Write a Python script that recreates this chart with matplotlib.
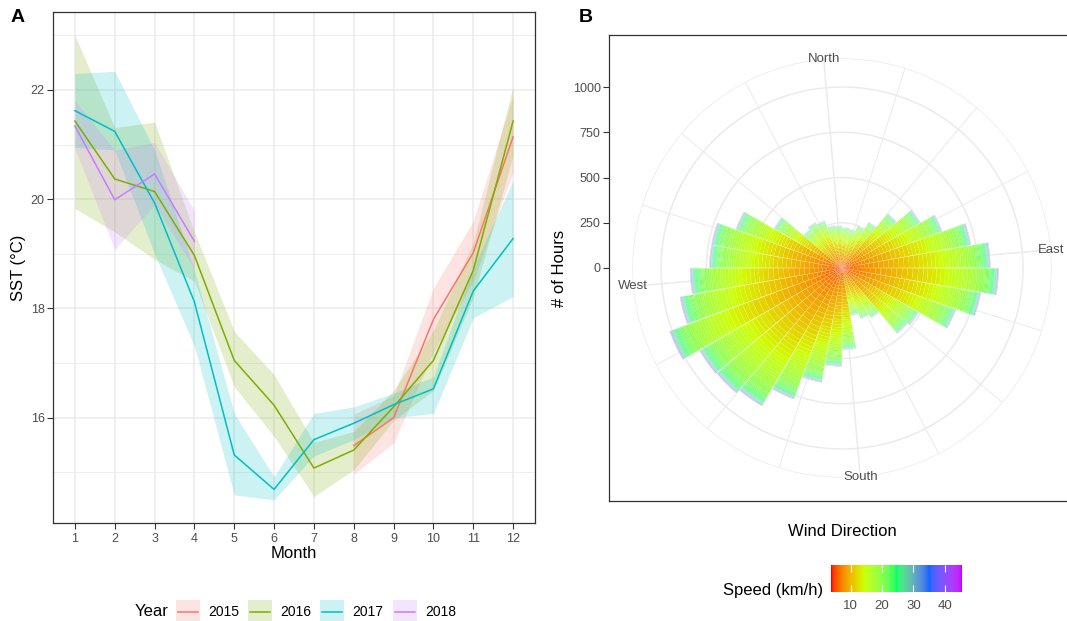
import numpy as np
import matplotlib
matplotlib.use('Agg')
from matplotlib import pyplot as plt
from matplotlib.colors import ListedColormap, Normalize, to_rgb
from matplotlib.cm import ScalarMappable
from matplotlib.lines import Line2D
from matplotlib.patches import Rectangle

plt.rcParams['font.family'] = ['Liberation Sans', 'DejaVu Sans']

# ---- panel A: monthly SST by year (mean and ribbon bounds) ----
months_2015 = [8, 9, 10, 11, 12]
sst_2015 = [15.49, 16.00, 17.80, 19.02, 21.14]
lo_2015 = [14.97, 15.54, 17.20, 18.50, 20.50]
hi_2015 = [16.07, 16.40, 18.37, 19.60, 21.90]

months_2016 = [1, 2, 3, 4, 5, 6, 7, 8, 9, 10, 11, 12]
sst_2016 = [21.43, 20.37, 20.14, 18.97, 17.05, 16.23, 15.08, 15.41, 16.20, 17.05, 18.70, 21.43]
lo_2016 = [19.83, 19.40, 18.90, 18.50, 16.57, 15.66, 14.56, 15.05, 15.95, 16.50, 18.20, 20.80]
hi_2016 = [23.00, 21.31, 21.41, 19.40, 17.58, 16.79, 15.55, 15.75, 16.50, 17.60, 19.20, 22.07]

months_2017 = [1, 2, 3, 4, 5, 6, 7, 8, 9, 10, 11, 12]
sst_2017 = [21.62, 21.24, 19.93, 18.12, 15.32, 14.69, 15.60, 15.90, 16.24, 16.53, 18.32, 19.28]
lo_2017 = [20.95, 20.90, 19.00, 17.31, 14.59, 14.50, 15.30, 15.60, 16.00, 16.08, 17.83, 18.22]
hi_2017 = [22.30, 22.34, 20.90, 18.70, 16.08, 14.92, 16.08, 16.20, 16.45, 16.75, 18.75, 20.34]

months_2018 = [1, 2, 3, 4]
sst_2018 = [21.34, 19.99, 20.46, 19.23]
lo_2018 = [20.92, 19.08, 19.90, 18.72]
hi_2018 = [21.80, 20.90, 21.04, 19.79]

years = ['2015', '2016', '2017', '2018']
year_colors = ['#F8766D', '#7CAE00', '#00BFC4', '#C77CFF']

# ---- panel B: hours of wind per 10 degree direction bin ----
direction_deg = list(range(0, 360, 10))
hours_by_dir = [235, 225, 220, 250, 295, 395, 500, 590, 725, 820, 866, 780,
                670, 490, 475, 320, 300, 270, 452, 544, 643, 772, 882, 905,
                910, 1015, 910, 840, 733, 733, 625, 436, 280, 293, 280, 240]
# share of hours (%) falling in each speed band (km/h)
speed_edges = [3.7, 6, 8, 10, 12, 14, 16, 18, 20, 22, 24, 26, 28, 30, 35, 40, 45.5]
speed_share = [5, 13, 17, 17, 14, 11, 8, 5.5, 3.5, 2.2, 1.4, 0.9, 0.6, 0.5, 0.25, 0.15]
speed_colors = ['#FF0000', '#CCFF00', '#00FF66', '#0066FF', '#CC00FF']

W, H = 1067, 621


def fx(px):
    return px / W


def fy(py):
    return 1 - py / H


def to_lab(c):
    rgb = np.array(to_rgb(c))
    lin = np.where(rgb <= 0.04045, rgb / 12.92, ((rgb + 0.055) / 1.055) ** 2.4)
    m = np.array([[0.4124, 0.3576, 0.1805], [0.2126, 0.7152, 0.0722], [0.0193, 0.1192, 0.9505]])
    xyz = m @ lin / np.array([0.95047, 1.0, 1.08883])
    f = np.where(xyz > 0.008856, np.cbrt(xyz), 7.787 * xyz + 16 / 116)
    return np.array([116 * f[1] - 16, 500 * (f[0] - f[1]), 200 * (f[1] - f[2])])


def from_lab(lab):
    fy_ = (lab[0] + 16) / 116
    f = np.array([fy_ + lab[1] / 500, fy_, fy_ - lab[2] / 200])
    xyz = np.where(f ** 3 > 0.008856, f ** 3, (f - 16 / 116) / 7.787) * np.array([0.95047, 1.0, 1.08883])
    mi = np.array([[3.2406, -1.5372, -0.4986], [-0.9689, 1.8758, 0.0415], [0.0557, -0.2040, 1.0570]])
    lin = np.clip(mi @ xyz, 0, 1)
    rgb = np.where(lin <= 0.0031308, 12.92 * lin, 1.055 * lin ** (1 / 2.4) - 0.055)
    return np.clip(rgb, 0, 1)


# gradient through the colours, interpolated in Lab like ggplot's gradientn
labs = [to_lab(c) for c in speed_colors]
ramp = []
for i in range(256):
    t = i / 255 * (len(labs) - 1)
    j = min(int(t), len(labs) - 2)
    u = t - j
    ramp.append(from_lab(labs[j] * (1 - u) + labs[j + 1] * u))
cmap = ListedColormap(ramp)
norm = Normalize(vmin=speed_edges[0], vmax=speed_edges[-1])

fig = plt.figure(figsize=(W / 100, H / 100), dpi=100)

GRID = '#EBEBEB'
DARK = '#333333'
TXT = '#4D4D4D'

# ================= panel A =================
ax = fig.add_axes([fx(53), fy(523), (535 - 53) / W, (523 - 12) / H])
series = [
    (months_2015, sst_2015, lo_2015, hi_2015),
    (months_2016, sst_2016, lo_2016, hi_2016),
    (months_2017, sst_2017, lo_2017, hi_2017),
    (months_2018, sst_2018, lo_2018, hi_2018),
]
for (m, s, lo, hi), c in zip(series, year_colors):
    ax.fill_between(m, lo, hi, color=c, alpha=0.2, linewidth=0, zorder=2)
for (m, s, lo, hi), c in zip(series, year_colors):
    ax.plot(m, s, color=c, lw=1.1, zorder=3)

ymin = min(min(l) for _, _, l, _ in series)
ymax = max(max(h) for _, _, _, h in series)
pad = (ymax - ymin) * 0.05
ax.set_ylim(ymin - pad, ymax + pad)
ax.set_xlim(1 - 11 * 0.05, 12 + 11 * 0.05)
ax.set_xticks(range(1, 13))
ax.set_yticks([16, 18, 20, 22])
ax.set_yticks([15, 17, 19, 21, 23], minor=True)
ax.grid(True, which='major', color=GRID, lw=1.1, zorder=0)
ax.grid(True, which='minor', axis='y', color=GRID, lw=0.55, zorder=0)
ax.set_axisbelow(True)
for sp in ax.spines.values():
    sp.set_color(DARK)
    sp.set_linewidth(0.9)
ax.tick_params(which='major', length=4, width=0.8, color=DARK, labelcolor=TXT, labelsize=9)
ax.tick_params(axis='x', pad=3)
ax.tick_params(axis='y', pad=2)
ax.tick_params(which='minor', length=0)

fig.text(fx(18), fy(268), 'SST (°C)', rotation=90, ha='center', va='center', fontsize=12)
fig.text(fx(294), fy(554), 'Month', ha='center', va='center', fontsize=12)
fig.text(fx(18), fy(17), 'A', ha='center', va='center', fontsize=14, fontweight='bold')

# legend for panel A
fig.text(fx(135), fy(612), 'Year', ha='left', va='center', fontsize=12)
key_x = [176, 248, 320, 393]
for kx, c, yr in zip(key_x, year_colors, years):
    fig.add_artist(Rectangle((fx(kx), fy(623)), 24 / W, 23 / H, transform=fig.transFigure,
                             facecolor=c, alpha=0.2, linewidth=0))
    fig.add_artist(Line2D([fx(kx + 2), fx(kx + 22)], [fy(611.5), fy(611.5)],
                          transform=fig.transFigure, color=c, lw=1.1))
    fig.text(fx(kx + 32), fy(612), yr, ha='left', va='center', fontsize=10)

# ================= panel B =================
R_DATA = 1030.0          # radius drawn at 0.4 of the panel
OUTER = R_DATA * 0.45 / 0.4
cx, cy, half = 842, 268, 233

fr = fig.add_axes([fx(cx - half), fy(cy + half), 2 * half / W, 2 * half / H])
fr.set_xlim(0, 1)
fr.set_ylim(-R_DATA * 0.5 / 0.4, R_DATA * 0.5 / 0.4)
fr.set_xticks([])
fr.set_yticks([0, 250, 500, 750, 1000])
for sp in fr.spines.values():
    sp.set_color(DARK)
    sp.set_linewidth(0.9)
fr.tick_params(length=4, width=0.8, color=DARK, labelcolor=TXT, labelsize=9, pad=2)
fig.text(fx(560), fy(268), '# of Hours', rotation=90, ha='center', va='center', fontsize=12)
fig.text(fx(842), fy(531), 'Wind Direction', ha='center', va='center', fontsize=12)
fig.text(fx(586), fy(17), 'B', ha='center', va='center', fontsize=14, fontweight='bold')

rp = half * 0.9
pax = fig.add_axes([fx(cx - rp), fy(cy + rp), 2 * rp / W, 2 * rp / H], projection='polar')
pax.set_facecolor('none')
pax.set_theta_zero_location('N', offset=5)
pax.set_theta_direction(-1)
pax.set_ylim(0, OUTER)
pax.grid(False)
pax.spines['polar'].set_visible(False)
pax.set_xticks([])
pax.set_yticks([])

tt = np.linspace(0, 2 * np.pi, 400)
for r in [250, 500, 750, 1000, OUTER]:
    pax.plot(tt, np.full_like(tt, r), color=GRID, lw=1.1, zorder=0)
for k in range(16):
    a = np.deg2rad(k * 22.5)
    pax.plot([a, a], [0, OUTER], color=GRID, lw=1.1 if k % 4 == 0 else 0.7, zorder=0)

theta = np.deg2rad(direction_deg)
hours = np.array(hours_by_dir, dtype=float)
bottom = np.zeros(len(theta))
N_SUB = 5
for lo, hi, share in zip(speed_edges[:-1], speed_edges[1:], speed_share):
    steps = np.linspace(lo, hi, N_SUB + 1)
    h = hours * share / sum(speed_share) / N_SUB
    for a, b in zip(steps[:-1], steps[1:]):
        pax.bar(theta, h, width=np.deg2rad(9.7), bottom=bottom, color=cmap(norm((a + b) / 2)),
                edgecolor=(1, 1, 1, 0.3), linewidth=0.2, zorder=2)
        bottom = bottom + h

for ang, lab in zip([0, 90, 180, 270], ['North', 'East', 'South', 'West']):
    pax.text(np.deg2rad(ang), OUTER, lab, ha='center', va='center', fontsize=9.5, color=TXT, zorder=3)

# colorbar
cax = fig.add_axes([fx(831), fy(592), 131 / W, 27 / H])
cb = fig.colorbar(ScalarMappable(norm=norm, cmap=cmap), cax=cax, orientation='horizontal')
cb.outline.set_visible(False)
cb.set_ticks([10, 20, 30, 40])
cax.tick_params(axis='x', direction='in', color='white', length=5, width=0.8,
                top=True, bottom=True, labelcolor=TXT, labelsize=9.5, pad=6)
fig.text(fx(823), fy(590), 'Speed (km/h)', ha='right', va='center', fontsize=12)

fig.savefig('out.png', dpi=100)
